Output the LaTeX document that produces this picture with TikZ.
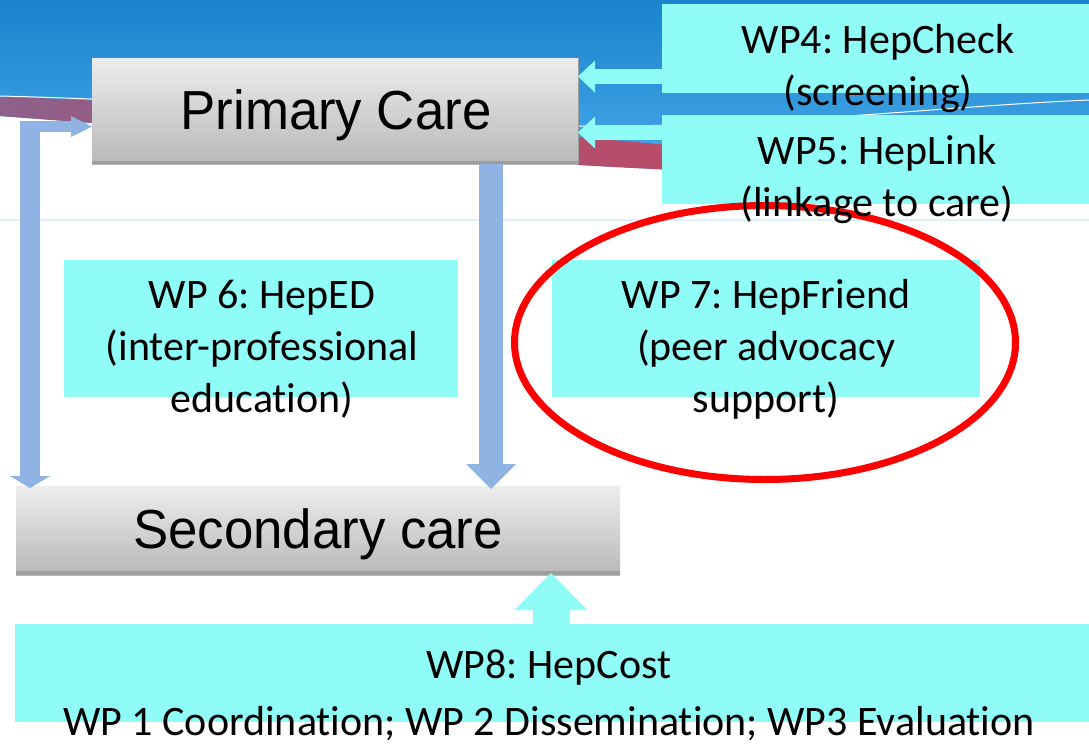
\documentclass[tikz,border=0pt]{standalone}
\usepackage{fontspec}
\usetikzlibrary{arrows.meta,shapes.geometric}
\newfontfamily\carefont{Liberation Sans}
\newfontfamily\wpfont[Ligatures=NoCommon]{Carlito}
\definecolor{wpcyan}{RGB}{143,252,248}
\definecolor{flowblue}{RGB}{143,180,227}
\definecolor{skytop}{RGB}{26,131,205}
\definecolor{skybottom}{RGB}{72,170,234}
\definecolor{bandpurple}{RGB}{142,96,138}
\definecolor{bandred}{RGB}{188,74,102}
\definecolor{boxtop}{RGB}{237,237,237}
\definecolor{boxbottom}{RGB}{184,184,184}
\definecolor{boxedge}{RGB}{158,158,158}
\definecolor{hairline}{RGB}{222,240,252}
\begin{document}
\begin{tikzpicture}[x=1pt,y=-1pt,
  carebox/.style={top color=boxtop, bottom color=boxbottom, draw=none,
    inner sep=0pt, outer sep=0pt},
  wpbox/.style={fill=wpcyan, inner sep=0pt, outer sep=0pt},
  caretext/.style={font=\carefont\fontsize{55}{60}\selectfont, inner sep=0pt, anchor=base},
  wptext/.style={font=\wpfont\frenchspacing\fontsize{42}{52}\selectfont, align=center,
    inner sep=0pt, anchor=base},
  cyanflow/.style={wpcyan, line width=15pt,
    -{Triangle[width=32pt,length=17pt,line width=0pt]}},
]
\useasboundingbox (0,0) rectangle (1089,744);
\clip (0,0) rectangle (1089,744);

% sky band with the swoosh across the top
\shade[top color=skytop, bottom color=skybottom]
  (0,0) -- (1089,0) -- (1089,180) -- (720,172) -- (700,171)
  .. controls (500,163) and (300,145) .. (92,123) -- (0,116) -- cycle;
\shade[left color=bandpurple, right color=bandred]
  (0,97) .. controls (100,98) and (400,120) .. (700,148) -- (720,149)
  -- (720,172) -- (700,171)
  .. controls (500,163) and (300,145) .. (92,123) -- (0,116) -- cycle;
\draw[white, line width=1pt]
  (0,96) .. controls (300,104) and (450,128) .. (620,126)
  .. controls (800,124) and (950,106) .. (1089,100);
\draw[hairline, line width=1.5pt] (0,220) -- (1089,220);

% care level boxes
\node[carebox, minimum width=486pt, minimum height=106pt] (pc) at (335,111) {};
\fill[boxedge] ([yshift=3pt]pc.south west) rectangle (pc.south east);
\draw[boxedge, line width=0.8pt] (pc.north east) -- (pc.south east);
\node[carebox, minimum width=604pt, minimum height=89pt] (sc) at (318,530.5) {};
\fill[boxedge] ([yshift=4pt]sc.south west) rectangle (sc.south east);

% work package boxes
\node[wpbox, minimum width=427pt, minimum height=89pt] (wp4) at (875.5,48.5) {};
\node[wpbox, minimum width=427pt, minimum height=89pt] (wp5) at (875.5,159.5) {};
\node[wpbox, minimum width=394pt, minimum height=137pt] (wp6) at (261,328.5) {};
\node[wpbox, minimum width=428pt, minimum height=137pt] (wp7) at (766,328.5) {};
\node[wpbox, minimum width=1074pt, minimum height=98pt] (wp8) at (552,673) {};

% flows between the boxes
\coordinate (pc-in4) at ([yshift=-18.5pt]pc.north east);
\coordinate (pc-in5) at ([yshift=-74.5pt]pc.north east);
\draw[cyanflow] (wp4.west |- pc-in4) -- (pc-in4);
\draw[cyanflow] (wp5.west |- pc-in5) -- (pc-in5);

\coordinate (sc-in8) at ([xshift=233pt,yshift=2pt]sc.south);
\draw[wpcyan, line width=37pt, -{Triangle[width=73pt,length=37pt,line width=0pt]}]
  (wp8.north -| sc-in8) -- (sc-in8);

\coordinate (pc-out) at ([xshift=156pt]pc.south);
\draw[flowblue, line width=24pt, -{Triangle[width=50pt,length=25pt,line width=0pt]}]
  (pc-out) -- ([yshift=-3pt]sc.north -| pc-out);

\coordinate (elbow) at (20,126.5);
\coordinate (drop) at (30,121);
\coordinate (pc-in6) at ([yshift=37.5pt]pc.south west);
\draw[flowblue, line width=20pt, -{Triangle[width=40pt,length=12pt,line width=0pt]}]
  (drop) -- ([yshift=-2pt]sc.north -| drop);
\draw[flowblue, line width=11pt, -{Triangle[width=21pt,length=21pt,line width=0pt]}]
  (elbow) -- (pc-in6);

% highlight ring
\node[ellipse, draw=red, line width=7pt, minimum width=501pt, minimum height=274pt,
  inner sep=0pt] (ring) at (765,342.5) {};

% labels (the base anchor sits on the last line)
\node[caretext] (pc-label) at (336,129) {\scalebox{0.96}[1]{Primary Care}};
\node[caretext] (sc-label) at (318,548) {\scalebox{0.96}[1]{Secondary care}};
\node[wptext] (wp4-label) at (878,105) {WP4: HepCheck\\(screening)};
\node[wptext] (wp5-label) at (877,216) {WP5: HepLink\\(linkage to care)};
\node[wptext] (wp6-label) at (262,412) {WP 6: HepED\\(inter-professional\\education)};
\node[wptext] (wp7-label) at (766,412) {WP 7: HepFriend\\(peer advocacy\\support)};
\node[wptext] (wp8-label) at (549,735)
  {WP8: HepCost\\[5pt]WP 1 Coordination; WP 2 Dissemination; WP3 Evaluation};
\end{tikzpicture}
\end{document}
